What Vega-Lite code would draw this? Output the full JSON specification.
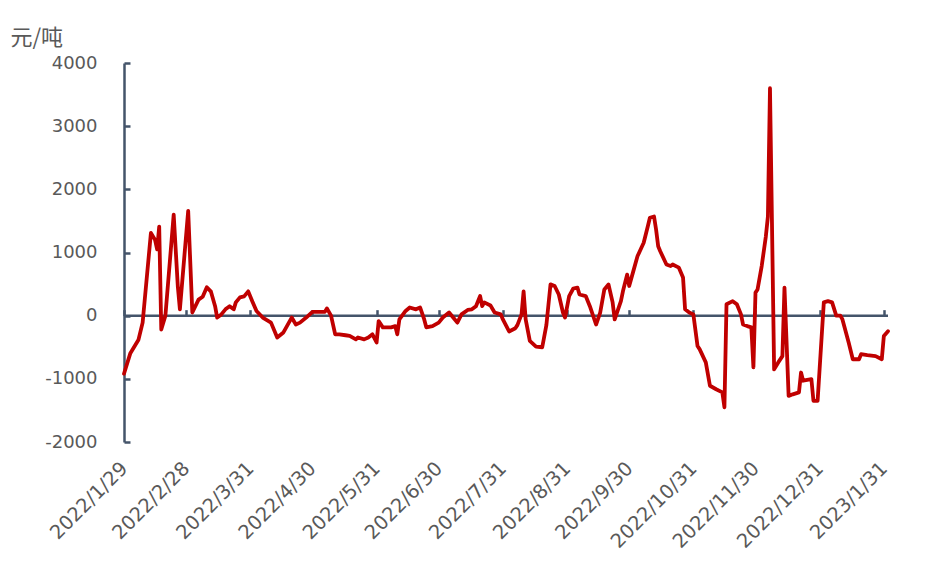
{
  "$schema": "https://vega.github.io/schema/vega-lite/v6.json",
  "width": 764,
  "height": 379,
  "autosize": {"type": "none"},
  "padding": {"left": 124, "top": 63, "right": 52, "bottom": 122},
  "background": "white",
  "config": {"view": {"stroke": null}},
  "resolve": {"axis": {"x": "independent", "y": "independent"}},
  "layer": [
    {
      "data": {"values": [{"k": 0}]},
      "mark": {"type": "rule", "color": "#44546A", "strokeWidth": 2.5},
      "encoding": {
        "x": {
          "datum": {"year": 2022, "month": 1, "date": 29, "utc": true},
          "type": "temporal",
          "scale": {"type": "utc", "domain": [{"year": 2022, "month": 1, "date": 29, "utc": true}, {"year": 2023, "month": 2, "date": 2, "utc": true}]},
          "axis": {
            "orient": "top",
            "offset": {"expr": "-scale('y', 0)"},
            "values": [
              {"year": 2022, "month": 1, "date": 29, "utc": true},
              {"year": 2022, "month": 2, "date": 28, "utc": true},
              {"year": 2022, "month": 3, "date": 31, "utc": true},
              {"year": 2022, "month": 4, "date": 30, "utc": true},
              {"year": 2022, "month": 5, "date": 31, "utc": true},
              {"year": 2022, "month": 6, "date": 30, "utc": true},
              {"year": 2022, "month": 7, "date": 31, "utc": true},
              {"year": 2022, "month": 8, "date": 31, "utc": true},
              {"year": 2022, "month": 9, "date": 30, "utc": true},
              {"year": 2022, "month": 10, "date": 31, "utc": true},
              {"year": 2022, "month": 11, "date": 30, "utc": true},
              {"year": 2022, "month": 12, "date": 31, "utc": true},
              {"year": 2023, "month": 1, "date": 31, "utc": true}
            ],
            "labels": false,
            "domain": false,
            "ticks": true,
            "tickSize": 6,
            "tickWidth": 2.5,
            "tickColor": "#44546A",
            "grid": false,
            "title": null
          }
        },
        "x2": {"datum": {"year": 2023, "month": 2, "date": 2, "utc": true}},
        "y": {"datum": 0, "type": "quantitative", "scale": {"domain": [-2000, 4000], "nice": false, "zero": false}, "axis": null}
      }
    },
    {
      "data": {
        "values": [
          {"date": "2022-01-29", "value": -920},
          {"date": "2022-02-01", "value": -600},
          {"date": "2022-02-05", "value": -380},
          {"date": "2022-02-07", "value": -110},
          {"date": "2022-02-11", "value": 1310},
          {"date": "2022-02-13", "value": 1200},
          {"date": "2022-02-14", "value": 1050},
          {"date": "2022-02-15", "value": 1410},
          {"date": "2022-02-16", "value": -220},
          {"date": "2022-02-18", "value": 0},
          {"date": "2022-02-22", "value": 1600},
          {"date": "2022-02-24", "value": 460},
          {"date": "2022-02-25", "value": 100},
          {"date": "2022-03-01", "value": 1660},
          {"date": "2022-03-03", "value": 50},
          {"date": "2022-03-06", "value": 255},
          {"date": "2022-03-08", "value": 300},
          {"date": "2022-03-10", "value": 450},
          {"date": "2022-03-12", "value": 380},
          {"date": "2022-03-14", "value": 150},
          {"date": "2022-03-15", "value": -30},
          {"date": "2022-03-17", "value": 20},
          {"date": "2022-03-19", "value": 100},
          {"date": "2022-03-21", "value": 150},
          {"date": "2022-03-23", "value": 100},
          {"date": "2022-03-24", "value": 210},
          {"date": "2022-03-26", "value": 290},
          {"date": "2022-03-28", "value": 305},
          {"date": "2022-03-30", "value": 385},
          {"date": "2022-04-01", "value": 225},
          {"date": "2022-04-03", "value": 75},
          {"date": "2022-04-06", "value": -30},
          {"date": "2022-04-10", "value": -110},
          {"date": "2022-04-13", "value": -345},
          {"date": "2022-04-16", "value": -265},
          {"date": "2022-04-20", "value": -30},
          {"date": "2022-04-22", "value": -140},
          {"date": "2022-04-24", "value": -110},
          {"date": "2022-04-27", "value": -30},
          {"date": "2022-04-30", "value": 60},
          {"date": "2022-05-02", "value": 60},
          {"date": "2022-05-06", "value": 60},
          {"date": "2022-05-07", "value": 115},
          {"date": "2022-05-09", "value": 0},
          {"date": "2022-05-11", "value": -295},
          {"date": "2022-05-13", "value": -295},
          {"date": "2022-05-16", "value": -310},
          {"date": "2022-05-18", "value": -320},
          {"date": "2022-05-21", "value": -375},
          {"date": "2022-05-22", "value": -345},
          {"date": "2022-05-25", "value": -375},
          {"date": "2022-05-27", "value": -345},
          {"date": "2022-05-29", "value": -295},
          {"date": "2022-05-31", "value": -425},
          {"date": "2022-06-01", "value": -85},
          {"date": "2022-06-03", "value": -185},
          {"date": "2022-06-07", "value": -185},
          {"date": "2022-06-09", "value": -165},
          {"date": "2022-06-10", "value": -295},
          {"date": "2022-06-11", "value": -60},
          {"date": "2022-06-14", "value": 75},
          {"date": "2022-06-16", "value": 130},
          {"date": "2022-06-19", "value": 100},
          {"date": "2022-06-21", "value": 130},
          {"date": "2022-06-23", "value": -60},
          {"date": "2022-06-24", "value": -185},
          {"date": "2022-06-27", "value": -165},
          {"date": "2022-06-30", "value": -110},
          {"date": "2022-07-02", "value": -30},
          {"date": "2022-07-05", "value": 50},
          {"date": "2022-07-07", "value": -30},
          {"date": "2022-07-09", "value": -110},
          {"date": "2022-07-11", "value": 20},
          {"date": "2022-07-14", "value": 90},
          {"date": "2022-07-16", "value": 100},
          {"date": "2022-07-18", "value": 150},
          {"date": "2022-07-20", "value": 310},
          {"date": "2022-07-21", "value": 150},
          {"date": "2022-07-22", "value": 210},
          {"date": "2022-07-25", "value": 160},
          {"date": "2022-07-27", "value": 50},
          {"date": "2022-07-30", "value": 20},
          {"date": "2022-07-31", "value": -60},
          {"date": "2022-08-03", "value": -250},
          {"date": "2022-08-06", "value": -200},
          {"date": "2022-08-07", "value": -150},
          {"date": "2022-08-09", "value": 20},
          {"date": "2022-08-10", "value": 385},
          {"date": "2022-08-11", "value": -60},
          {"date": "2022-08-13", "value": -400},
          {"date": "2022-08-16", "value": -490},
          {"date": "2022-08-19", "value": -500},
          {"date": "2022-08-21", "value": -150},
          {"date": "2022-08-23", "value": 495},
          {"date": "2022-08-25", "value": 470},
          {"date": "2022-08-27", "value": 335},
          {"date": "2022-08-29", "value": 50},
          {"date": "2022-08-30", "value": -30},
          {"date": "2022-09-01", "value": 310},
          {"date": "2022-09-03", "value": 430},
          {"date": "2022-09-05", "value": 445},
          {"date": "2022-09-06", "value": 335},
          {"date": "2022-09-09", "value": 310},
          {"date": "2022-09-11", "value": 150},
          {"date": "2022-09-14", "value": -140},
          {"date": "2022-09-16", "value": 50},
          {"date": "2022-09-18", "value": 415},
          {"date": "2022-09-20", "value": 495},
          {"date": "2022-09-22", "value": 210},
          {"date": "2022-09-23", "value": -60},
          {"date": "2022-09-26", "value": 230},
          {"date": "2022-09-27", "value": 390},
          {"date": "2022-09-29", "value": 650},
          {"date": "2022-09-30", "value": 470},
          {"date": "2022-10-02", "value": 705},
          {"date": "2022-10-04", "value": 940},
          {"date": "2022-10-07", "value": 1155},
          {"date": "2022-10-09", "value": 1415},
          {"date": "2022-10-10", "value": 1550},
          {"date": "2022-10-12", "value": 1570},
          {"date": "2022-10-13", "value": 1360},
          {"date": "2022-10-14", "value": 1100},
          {"date": "2022-10-15", "value": 1020},
          {"date": "2022-10-18", "value": 810},
          {"date": "2022-10-20", "value": 785},
          {"date": "2022-10-21", "value": 810},
          {"date": "2022-10-24", "value": 760},
          {"date": "2022-10-26", "value": 605},
          {"date": "2022-10-27", "value": 100},
          {"date": "2022-10-29", "value": 50},
          {"date": "2022-10-31", "value": 20},
          {"date": "2022-11-02", "value": -480},
          {"date": "2022-11-03", "value": -530},
          {"date": "2022-11-06", "value": -740},
          {"date": "2022-11-08", "value": -1110},
          {"date": "2022-11-11", "value": -1165},
          {"date": "2022-11-14", "value": -1215},
          {"date": "2022-11-15", "value": -1450},
          {"date": "2022-11-16", "value": 180},
          {"date": "2022-11-19", "value": 230},
          {"date": "2022-11-21", "value": 180},
          {"date": "2022-11-23", "value": 20},
          {"date": "2022-11-24", "value": -140},
          {"date": "2022-11-26", "value": -165},
          {"date": "2022-11-28", "value": -185},
          {"date": "2022-11-29", "value": -820},
          {"date": "2022-11-30", "value": 365},
          {"date": "2022-12-01", "value": 415},
          {"date": "2022-12-03", "value": 785},
          {"date": "2022-12-05", "value": 1255},
          {"date": "2022-12-06", "value": 1570},
          {"date": "2022-12-07", "value": 3600},
          {"date": "2022-12-09", "value": -850},
          {"date": "2022-12-11", "value": -740},
          {"date": "2022-12-13", "value": -640},
          {"date": "2022-12-14", "value": 445},
          {"date": "2022-12-16", "value": -1270},
          {"date": "2022-12-18", "value": -1245},
          {"date": "2022-12-21", "value": -1215},
          {"date": "2022-12-22", "value": -900},
          {"date": "2022-12-23", "value": -1030},
          {"date": "2022-12-27", "value": -1005},
          {"date": "2022-12-28", "value": -1350},
          {"date": "2022-12-30", "value": -1350},
          {"date": "2023-01-02", "value": 210},
          {"date": "2023-01-04", "value": 230},
          {"date": "2023-01-06", "value": 210},
          {"date": "2023-01-08", "value": 0},
          {"date": "2023-01-10", "value": 0},
          {"date": "2023-01-11", "value": -60},
          {"date": "2023-01-14", "value": -425},
          {"date": "2023-01-16", "value": -690},
          {"date": "2023-01-19", "value": -690},
          {"date": "2023-01-20", "value": -610},
          {"date": "2023-01-23", "value": -625},
          {"date": "2023-01-27", "value": -640},
          {"date": "2023-01-30", "value": -690},
          {"date": "2023-01-31", "value": -320},
          {"date": "2023-02-02", "value": -245}
        ]
      },
      "mark": {"type": "line", "color": "#C00000", "strokeWidth": 3.8, "strokeJoin": "round", "strokeCap": "round"},
      "encoding": {
        "x": {
          "field": "date",
          "type": "temporal",
          "scale": {"type": "utc", "domain": [{"year": 2022, "month": 1, "date": 29, "utc": true}, {"year": 2023, "month": 2, "date": 2, "utc": true}]},
          "axis": {
            "orient": "bottom",
            "values": [
              {"year": 2022, "month": 1, "date": 29, "utc": true},
              {"year": 2022, "month": 2, "date": 28, "utc": true},
              {"year": 2022, "month": 3, "date": 31, "utc": true},
              {"year": 2022, "month": 4, "date": 30, "utc": true},
              {"year": 2022, "month": 5, "date": 31, "utc": true},
              {"year": 2022, "month": 6, "date": 30, "utc": true},
              {"year": 2022, "month": 7, "date": 31, "utc": true},
              {"year": 2022, "month": 8, "date": 31, "utc": true},
              {"year": 2022, "month": 9, "date": 30, "utc": true},
              {"year": 2022, "month": 10, "date": 31, "utc": true},
              {"year": 2022, "month": 11, "date": 30, "utc": true},
              {"year": 2022, "month": 12, "date": 31, "utc": true},
              {"year": 2023, "month": 1, "date": 31, "utc": true}
            ],
            "labelExpr": "utcFormat(datum.value, '%Y/%-m/%-d')",
            "labelAngle": -45,
            "labelAlign": "right",
            "labelBaseline": "middle",
            "labelFont": "DejaVu Sans",
            "labelFontSize": 19.5,
            "labelColor": "#595959",
            "labelPadding": 23,
            "labelOverlap": false,
            "labelBound": false,
            "labelFlush": false,
            "domain": false,
            "ticks": false,
            "grid": false,
            "title": null
          }
        },
        "y": {
          "field": "value",
          "type": "quantitative",
          "scale": {"domain": [-2000, 4000], "nice": false, "zero": false},
          "axis": {
            "values": [-2000, -1000, 0, 1000, 2000, 3000, 4000],
            "labelExpr": "'' + datum.value",
            "title": "元/吨",
            "titleAngle": 0,
            "titleAlign": "left",
            "titleBaseline": "alphabetic",
            "titleX": -114,
            "titleY": -19,
            "titleFont": "Noto Sans CJK SC",
            "titleFontSize": 22,
            "titleFontWeight": "normal",
            "titleColor": "#595959",
            "labelFont": "DejaVu Sans",
            "labelFontSize": 18,
            "labelColor": "#595959",
            "labelPadding": 33,
            "domainColor": "#44546A",
            "domainWidth": 2.5,
            "tickColor": "#44546A",
            "tickWidth": 2.5,
            "tickSize": -6,
            "grid": false
          }
        }
      }
    }
  ]
}
